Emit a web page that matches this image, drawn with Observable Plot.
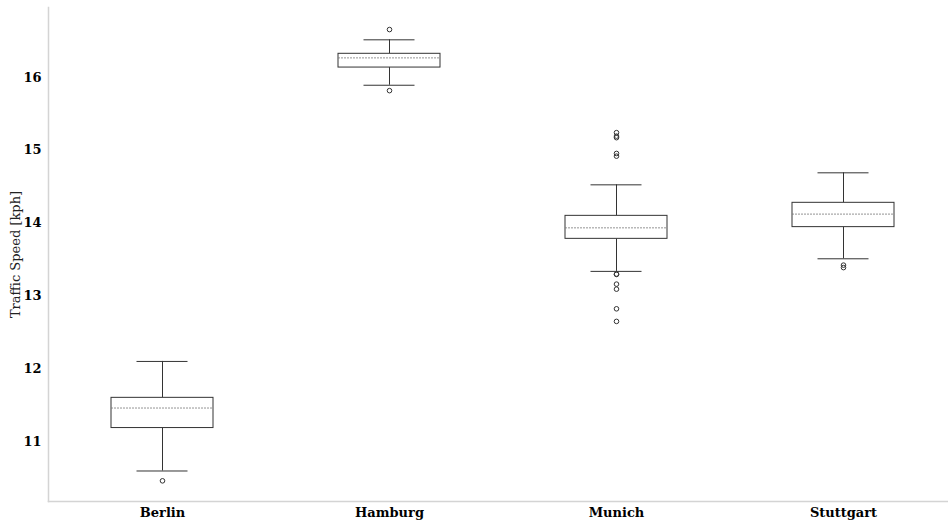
<!DOCTYPE html>
<html>
<head>
<meta charset="utf-8">
<script src="https://cdn.jsdelivr.net/npm/d3@7"></script>
<script src="https://cdn.jsdelivr.net/npm/@observablehq/plot@0.6"></script>
<style>
  html, body { margin: 0; padding: 0; background: #fff; }
</style>
</head>
<body>
<div id="chart"></div>
<script>
// Summary statistics of traffic speed per city (kph)
const cities = ["Berlin", "Hamburg", "Munich", "Stuttgart"];
const whiskerLow  = [10.595, 15.894, 13.337, 13.510];
const q1          = [11.185, 16.137, 13.784, 13.945];
const median      = [11.460, 16.270, 13.935, 14.124];
const q3          = [11.600, 16.326, 14.100, 14.279];
const whiskerHigh = [12.100, 16.518, 14.526, 14.691];

// Points beyond the whiskers
const outlierCity  = ["Berlin", "Hamburg", "Hamburg",
  "Munich", "Munich", "Munich", "Munich", "Munich", "Munich", "Munich", "Munich", "Munich", "Munich", "Munich",
  "Stuttgart", "Stuttgart"];
const outlierSpeed = [10.46, 16.659, 15.82,
  15.243, 15.195, 15.174, 14.957, 14.920, 13.300, 13.295, 13.162, 13.093, 12.823, 12.650,
  13.423, 13.389];

const yTicks = [11, 12, 13, 14, 15, 16];

const boxes = cities.map((city, i) => ({
  city, lo: whiskerLow[i], q1: q1[i], med: median[i], q3: q3[i], hi: whiskerHigh[i]
}));
const outliers = outlierCity.map((city, i) => ({city, speed: outlierSpeed[i]}));

const ink = "#333";
const spine = "#d4d4d4";

const chart = Plot.plot({
  width: 948,
  height: 525,
  marginLeft: 48,
  marginRight: 0,
  marginTop: 7,
  marginBottom: 24,
  style: {fontFamily: "'DejaVu Serif', serif", fontSize: "13px", color: "#000", background: "#fff"},
  x: {domain: cities, range: [48, 956], paddingInner: 0.5507, paddingOuter: 0.2753, label: null},
  y: {domain: [10.176, 16.962], label: null},
  marks: [
    Plot.frame({anchor: "left", stroke: spine, strokeWidth: 1.5}),
    Plot.frame({anchor: "bottom", stroke: spine, strokeWidth: 1.5}),
    // whiskers
    Plot.ruleX(boxes, {x: "city", y1: "lo", y2: "q1", stroke: ink, strokeWidth: 1}),
    Plot.ruleX(boxes, {x: "city", y1: "q3", y2: "hi", stroke: ink, strokeWidth: 1}),
    // whisker caps
    Plot.tickY(boxes, {x: "city", y: "lo", stroke: ink, strokeWidth: 1, insetLeft: 25.5, insetRight: 25.5}),
    Plot.tickY(boxes, {x: "city", y: "hi", stroke: ink, strokeWidth: 1, insetLeft: 25.5, insetRight: 25.5}),
    // interquartile boxes
    Plot.barY(boxes, {x: "city", y1: "q1", y2: "q3", fill: "#fff", stroke: ink, strokeWidth: 1}),
    // medians
    Plot.tickY(boxes, {x: "city", y: "med", stroke: "#777", strokeWidth: 0.8, strokeDasharray: "2,1"}),
    // outliers
    Plot.dot(outliers, {x: "city", y: "speed", r: 2.3, stroke: ink, strokeWidth: 1, fill: "none"}),
    Plot.axisY({ticks: yTicks, tickFormat: "d", tickSize: 0, tickPadding: 7, fontWeight: "bold", label: null}),
    Plot.axisX({tickSize: 0, tickPadding: 6, fontWeight: "bold", label: null}),
    Plot.text(["Traffic Speed [kph]"], {frameAnchor: "left", textAnchor: "middle", rotate: -90, dx: -33, fill: "#222"})
  ]
});

document.getElementById("chart").append(chart);
</script>
</body>
</html>
